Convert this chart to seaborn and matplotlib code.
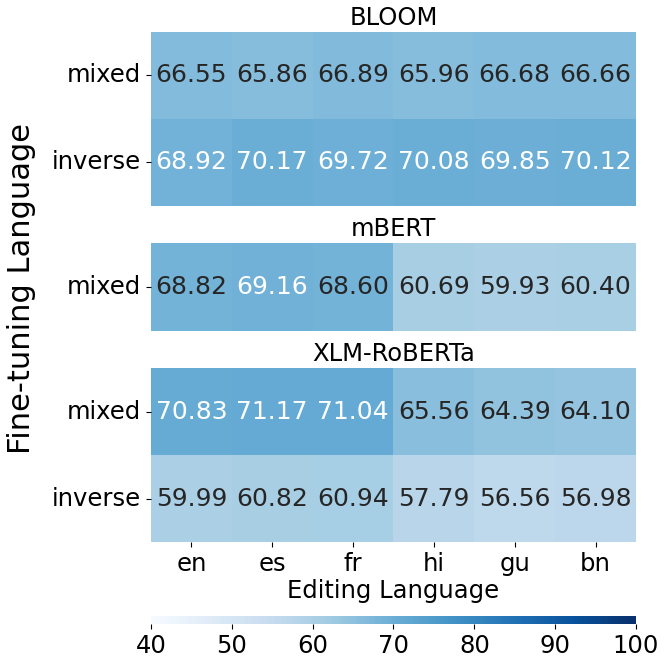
import numpy as np
import pandas as pd
import seaborn as sns
import matplotlib
matplotlib.use("Agg")
import matplotlib.pyplot as plt

# Editing languages (columns)
edit_langs = ["en", "es", "fr", "hi", "gu", "bn"]

# BLOOM
bloom_rows = ["mixed", "inverse"]
bloom_mixed = [66.55, 65.86, 66.89, 65.96, 66.68, 66.66]
bloom_inverse = [68.92, 70.17, 69.72, 70.08, 69.85, 70.12]

# mBERT
mbert_rows = ["mixed"]
mbert_mixed = [68.82, 69.16, 68.60, 60.69, 59.93, 60.40]

# XLM-RoBERTa
xlmr_rows = ["mixed", "inverse"]
xlmr_mixed = [70.83, 71.17, 71.04, 65.56, 64.39, 64.10]
xlmr_inverse = [59.99, 60.82, 60.94, 57.79, 56.56, 56.98]

vmin, vmax = 40, 100
cmap = "Blues"
fs = 17.5

bloom = pd.DataFrame([bloom_mixed, bloom_inverse], index=bloom_rows, columns=edit_langs)
mbert = pd.DataFrame([mbert_mixed], index=mbert_rows, columns=edit_langs)
xlmr = pd.DataFrame([xlmr_mixed, xlmr_inverse], index=xlmr_rows, columns=edit_langs)

fig = plt.figure(figsize=(6.64, 6.64), dpi=100)

left, width = 0.2274, 0.7304
ax1 = fig.add_axes([left, 0.6898, width, 0.262])
ax2 = fig.add_axes([left, 0.5015, width, 0.1325])
ax3 = fig.add_axes([left, 0.1837, width, 0.262])
cax = fig.add_axes([left, 0.0602, width, 0.012])

panels = [(ax1, bloom, "BLOOM"), (ax2, mbert, "mBERT"), (ax3, xlmr, "XLM-RoBERTa")]
for i, (ax, df, title) in enumerate(panels):
    last = i == len(panels) - 1
    sns.heatmap(df, ax=ax, cmap=cmap, vmin=vmin, vmax=vmax, annot=True, fmt=".2f",
                annot_kws={"fontsize": 18}, cbar=last, cbar_ax=cax if last else None,
                cbar_kws={"orientation": "horizontal"} if last else None)
    ax.set_title(title, fontsize=fs, pad=5)
    ax.tick_params(axis="y", labelsize=fs, rotation=0)
    if last:
        ax.tick_params(axis="x", labelsize=fs, rotation=0)
        ax.set_xlabel("Editing Language", fontsize=fs, labelpad=2)
    else:
        ax.set_xticks([])
        ax.set_xlabel("")
    ax.set_ylabel("")

cax.tick_params(labelsize=fs)
cax.set_xticks([40, 50, 60, 70, 80, 90, 100])

fig.text(0.033, 0.566, "Fine-tuning Language", rotation=90, fontsize=22,
         ha="center", va="center")

fig.savefig("out.png", dpi=100)
